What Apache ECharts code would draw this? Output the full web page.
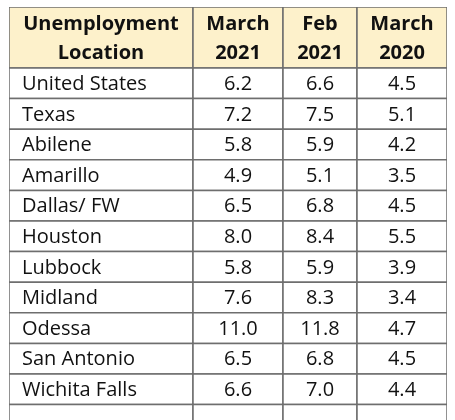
<!DOCTYPE html>
<html><head><meta charset="utf-8">
<script src="https://cdn.jsdelivr.net/npm/echarts@6/dist/echarts.min.js"></script>
<style>html,body{margin:0;padding:0;background:#fff}#c{width:455px;height:420px}</style>
</head><body><div id="c"></div>
<script>
const headers = ["Unemployment\nLocation", "March\n2021", "Feb\n2021", "March\n2020"];
const locations = ["United States","Texas","Abilene","Amarillo","Dallas/ FW","Houston","Lubbock","Midland","Odessa","San Antonio","Wichita Falls"];
const march2021 = ["6.2","7.2","5.8","4.9","6.5","8.0","5.8","7.6","11.0","6.5","6.6"];
const feb2021 = ["6.6","7.5","5.9","5.1","6.8","8.4","5.9","8.3","11.8","6.8","7.0"];
const march2020 = ["4.5","5.1","4.2","3.5","4.5","5.5","3.9","3.4","4.7","4.5","4.4"];

const colEdges = [0,184,274,348,438];
const headerH = 61, rowH = 30.6;
const cells = [];
headers.forEach((h,c)=>cells.push([c,-1,h]));
const cols=[locations,march2021,feb2021,march2020];
for(let r=0;r<locations.length+1;r++){
  for(let c=0;c<4;c++) cells.push([c,r, r<locations.length?cols[c][r]:""]);
}
const chart = echarts.init(document.getElementById('c'));
chart.setOption({
  animation:false,
  grid:{left:9,right:8,top:7,bottom:0},
  xAxis:{type:'value',min:0,max:438,show:false},
  yAxis:{type:'value',min:0,max:413,inverse:true,show:false},
  series:[{
    type:'custom',
    clip:true,
    data:cells,
    renderItem:function(params,api){
      const c=api.value(0), r=api.value(1), t=cells[params.dataIndex][2];
      const y0 = r<0?0:headerH+r*rowH, y1 = r<0?headerH:headerH+(r+1)*rowH;
      const p0=api.coord([colEdges[c],y0]), p1=api.coord([colEdges[c+1],y1]);
      const header=r<0;
      const left = c===0;
      return {type:'group',children:[
        {type:'rect',shape:{x:p0[0],y:p0[1],width:p1[0]-p0[0],height:p1[1]-p0[1]},
         style:{fill:header?'#fdf1cb':'#fff',stroke:'#6e6e6e',lineWidth:1.5}},
        {type:'text',style:{text:t,
          x: (left&&!header)? p0[0]+13 : (p0[0]+p1[0])/2,
          y:(p0[1]+p1[1])/2+1,
          align:(left&&!header)?'left':'center',verticalAlign:'middle',
          font:(header?'bold ':'')+'20px "Open Sans", sans-serif',
          lineHeight:29, fill:'#111'}}
      ]};
    }
  }]
});
</script></body></html>
